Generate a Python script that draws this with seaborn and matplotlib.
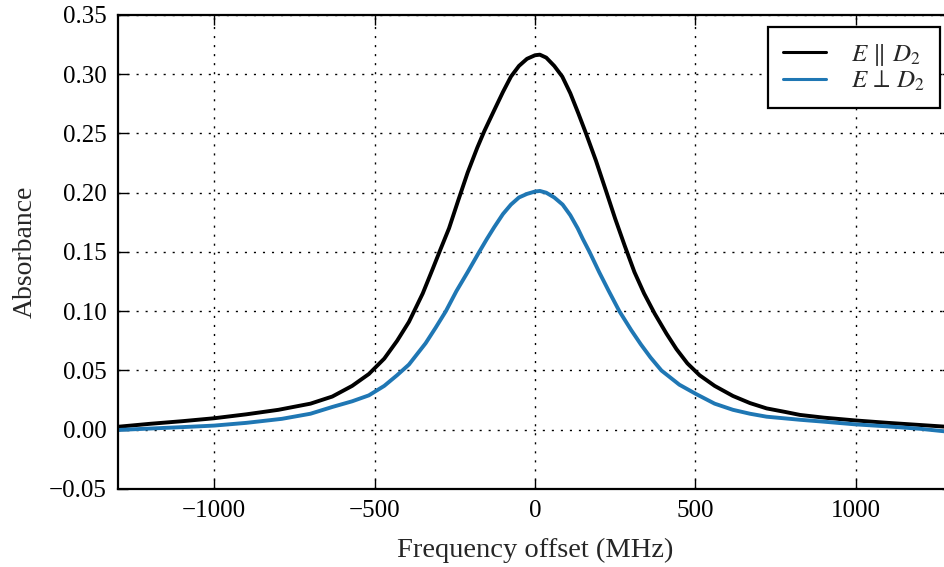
import matplotlib
matplotlib.use("Agg")
import matplotlib.pyplot as plt
import seaborn as sns
import pandas as pd

# Values
freq_par = [-1300, -1200, -1100, -1000, -900, -800, -700, -632, -570, -518, -470, -430,
            -393, -350, -320, -295, -268, -240, -210, -180, -158, -130, -100, -75, -50,
            -25, 0, 15, 35, 60, 85, 110, 135, 159, 190, 222, 250, 280, 310, 340, 373,
            410, 441, 475, 513, 560, 617, 670, 722, 780, 826, 900, 1000, 1100, 1200, 1300]
abs_par = [0.0025, 0.005, 0.0072, 0.0097, 0.013, 0.0168, 0.022, 0.028, 0.037, 0.047,
           0.060, 0.075, 0.091, 0.115, 0.135, 0.152, 0.170, 0.193, 0.217, 0.238, 0.252,
           0.268, 0.285, 0.298, 0.307, 0.313, 0.316, 0.3165, 0.314, 0.307, 0.298, 0.284,
           0.267, 0.250, 0.227, 0.201, 0.178, 0.155, 0.133, 0.115, 0.098, 0.081, 0.068,
           0.056, 0.046, 0.037, 0.0285, 0.0225, 0.018, 0.015, 0.0125, 0.0102, 0.0078,
           0.0058, 0.0040, 0.0022]

freq_perp = [-1300, -1200, -1100, -1000, -900, -789, -700, -632, -570, -518, -470, -430,
             -393, -341, -310, -278, -245, -210, -174, -150, -127, -100, -75, -50, -25, 0,
             15, 35, 60, 86, 110, 133, 149, 170, 200, 230, 263, 300, 330, 360, 394, 450,
             503, 560, 617, 670, 722, 826, 900, 1000, 1100, 1200, 1300]
abs_perp = [-0.0002, 0.001, 0.0022, 0.0035, 0.0058, 0.0092, 0.0135, 0.0192, 0.024, 0.029,
            0.037, 0.046, 0.055, 0.073, 0.086, 0.100, 0.117, 0.133, 0.150, 0.161, 0.171,
            0.182, 0.190, 0.196, 0.199, 0.201, 0.2015, 0.200, 0.196, 0.190, 0.181, 0.170,
            0.161, 0.150, 0.133, 0.117, 0.100, 0.084, 0.072, 0.061, 0.050, 0.038, 0.030,
            0.022, 0.0168, 0.0135, 0.011, 0.0084, 0.0068, 0.0045, 0.0028, 0.0008, -0.002]

labels = [r"$E\,\parallel\,D_2$", r"$E\,\perp\,D_2$"]
colors = ["black", "#1f77b4"]
xticks = [-1000, -500, 0, 500, 1000]
yticks = [-0.05, 0.0, 0.05, 0.10, 0.15, 0.20, 0.25, 0.30, 0.35]

sns.set_style("ticks")
plt.rcParams["font.family"] = ["Liberation Serif", "DejaVu Serif"]
plt.rcParams["mathtext.fontset"] = "stix"

fig = plt.figure(figsize=(9.44, 5.67), dpi=100)
ax = fig.add_axes([0.125, 0.1376, 0.8835, 0.836])

df_par = pd.DataFrame({"f": freq_par, "a": abs_par})
df_perp = pd.DataFrame({"f": freq_perp, "a": abs_perp})
sns.lineplot(data=df_par, x="f", y="a", color=colors[0], lw=2.8, label=labels[0],
             ax=ax, estimator=None, sort=True)
sns.lineplot(data=df_perp, x="f", y="a", color=colors[1], lw=2.8, label=labels[1],
             ax=ax, estimator=None, sort=True)

ax.set_xlim(-1300, 1300)
ax.set_ylim(-0.05, 0.35)
ax.set_xticks(xticks)
ax.set_yticks(yticks)
ax.set_yticklabels([f"{v:.2f}".replace("-", "\u2212") for v in yticks])
ax.grid(True, color="black", linestyle=(0, (1.5, 5)), linewidth=1.0)
ax.tick_params(direction="in", length=7, width=1, labelsize=18, top=True, right=True,
               pad=8, colors="black")
for s in ax.spines.values():
    s.set_linewidth(1.6)
    s.set_color("black")
ax.set_xlabel("Frequency offset (MHz)", fontsize=20.5, labelpad=11)
ax.set_ylabel("Absorbance", fontsize=20, labelpad=8)

leg = ax.legend(loc="upper right", bbox_to_anchor=(0.9856, 0.9747), borderaxespad=0,
                fontsize=18, fancybox=False, framealpha=1, edgecolor="black",
                handlelength=1.7, handletextpad=1.0, borderpad=0.6, labelspacing=0.05)
leg.get_frame().set_linewidth(1.6)
for line in leg.get_lines():
    line.set_linewidth(2.2)

fig.savefig("out.png", dpi=100)
